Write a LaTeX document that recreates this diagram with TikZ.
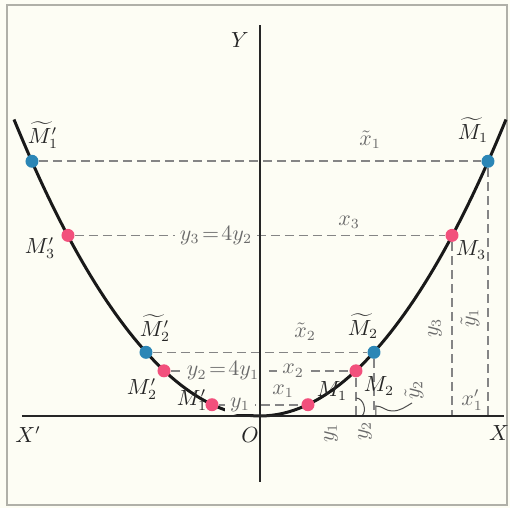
\documentclass[tikz,border=0pt]{standalone}
\usepackage{amsmath,amssymb}
\usepackage{xcolor}
\usepackage{tikz}
\usetikzlibrary{backgrounds}
\definecolor{paper}{HTML}{FDFDF4}
\definecolor{framec}{HTML}{B0B0A8}
\definecolor{guidec}{HTML}{858585}
\definecolor{labc}{HTML}{6A6A6A}
\definecolor{ptpink}{HTML}{F2507C}
\definecolor{ptblue}{HTML}{2B86B6}
\tikzset{
  axisline/.style={line width=1.3pt, draw=black!85},
  parab/.style={line width=1.5pt, draw=black!90},
  guide/.style={draw=guidec, line width=0.8pt, dash pattern=on 4.5pt off 2.5pt},
  framebox/.style={draw=framec, line width=1pt},
  ptdot/.style={circle, fill=#1, inner sep=0pt, minimum size=6.5pt},
  axl/.style={font=\fontsize{10.5}{12}\selectfont, text=black!85, inner sep=1pt},
  mlab/.style={font=\fontsize{10.5}{12}\selectfont, text=black!85, inner sep=1pt},
  glab/.style={font=\fontsize{10.5}{12}\selectfont, text=labc, inner sep=1pt},
  cut/.style={glab, fill=paper, inner ysep=1pt, inner xsep=2.5pt},
  brc/.style={draw=black!70, line width=0.5pt},
}
\newcommand{\eqs}{\mkern2mu{=}\mkern2mu}
\def\xA{48}   \def\yA{11.29}
\def\xB{96}   \def\yB{45.16}
\def\xC{192}  \def\yC{180.63}
\def\xD{114}  \def\yD{63.68}
\def\xE{228}  \def\yE{254.72}

\begin{document}
\begin{tikzpicture}[x=0.5pt, y=0.5pt]
  \useasboundingbox (-260,-92) rectangle (250,416);
  \coordinate (O) at (0,0);
  \coordinate (xl) at (-238,0); \coordinate (xr) at (244,0);
  \coordinate (yb) at (0,-66);  \coordinate (yt) at (0,391);
  \coordinate (cl) at (-246,296.5); \coordinate (cr) at (246,296.5);
  \coordinate (fB) at (\xB,0); \coordinate (fC) at (\xC,0);
  \coordinate (fD) at (\xD,0); \coordinate (fE) at (\xE,0);
  % points on the parabola
  \node[ptdot=ptblue] (Mt1)  at (\xE,\yE) {};
  \node[ptdot=ptblue] (Mt1p) at (-\xE,\yE) {};
  \node[ptdot=ptpink] (M3)   at (\xC,\yC) {};
  \node[ptdot=ptpink] (M3p)  at (-\xC,\yC) {};
  \node[ptdot=ptblue] (Mt2)  at (\xD,\yD) {};
  \node[ptdot=ptblue] (Mt2p) at (-\xD,\yD) {};
  \node[ptdot=ptpink] (M2)   at (\xB,\yB) {};
  \node[ptdot=ptpink] (M2p)  at (-\xB,\yB) {};
  \node[ptdot=ptpink] (M1)   at (\xA,\yA) {};
  \node[ptdot=ptpink] (M1p)  at (-\xA,\yA) {};
  % axis labels
  \node[axl] (lY)  at (-20,376) {$Y$};
  \node[axl] (lXp) at (-232,-19) {$X'$};
  \node[axl] (lO)  at (-10,-19) {$O$};
  \node[axl] (lX)  at (239,-17) {$X$};
  % point labels
  \node[mlab] (lMt1p) at (-217,281) {$\widetilde{M}'_1$};
  \node[mlab] (lMt1)  at (213,286) {$\widetilde{M}_1$};
  \node[mlab] (lM3p)  at (-220,168) {$M'_3$};
  \node[mlab] (lM3)   at (211,166) {$M_3$};
  \node[mlab] (lMt2p) at (-105,88) {$\widetilde{M}'_2$};
  \node[mlab] (lMt2)  at (103,90) {$\widetilde{M}_2$};
  \node[mlab] (lM2p)  at (-118,27) {$M'_2$};
  \node[mlab] (lM2)   at (119,30) {$M_2$};
  \node[mlab] (lM1p)  at (-68,16) {$M'_1$};
  \node[mlab] (lM1)   at (72,25) {$M_1$};
  % lengths
  \node[glab] (lxt1) at (110,276) {$\tilde x_1$};
  \node[glab] (lx3)  at (89,194) {$x_3$};
  \node[cut]  (ly3)  at (-44,\yC) {$y_3\eqs4y_2$};
  \node[glab] (lxt2) at (45,84) {$\tilde x_2$};
  \node[cut]  (ly2)  at (-37,\yB) {$y_2\eqs4y_1$};
  \node[cut]  (lx2)  at (33,\yB) {$x_2$};
  \node[cut]  (ly1)  at (-20,\yA) {$y_1$};
  \node[glab] (lx1)  at (23,25) {$x_1$};
  \node[glab, rotate=90] (ly1b) at (71,-17) {$y_1$};
  \node[glab, rotate=90] (ly2b) at (105,-15) {$y_2$};
  \node[glab, rotate=90] (lyt2) at (154,26) {$\tilde y_2$};
  \node[glab, rotate=90] (ly3r) at (175,88) {$y_3$};
  \node[glab, rotate=90] (lyt1) at (210,98) {$\tilde y_1$};
  \node[glab] (lx1p) at (212,16) {$x'_1$};
  \draw[axisline] (xl) -- (xr);
  \draw[axisline] (yb) -- (yt);
  \begin{scope}[on background layer]
    \fill[paper] (-260,-92) rectangle (250,416);
    \draw[framebox] (-253,-89) rectangle (247,411);
    \draw[guide] (Mt1p) -- (Mt1);
    \draw[guide] (M3p) -- (M3);
    \draw[guide] (Mt2p) -- (Mt2);
    \draw[guide] (M2p) -- (M2);
    \draw[guide] (M1p) -- (M1);
    \draw[guide] (Mt1) -- (fE); \draw[guide] (M3) -- (fC);
    \draw[guide] (Mt2) -- (fD); \draw[guide] (M2) -- (fB);
    \draw[parab] (cl) parabola bend (O) (cr);
    \draw[brc] ([yshift=9]fB) to[out=0,in=45] ([xshift=3]fB);
    \draw[brc] ([xshift=1]fD) -- ++(0,10) to[out=0,in=180] ++(16,-5) to[out=0,in=210] ++(20,8);
  \end{scope}
\end{tikzpicture}
\end{document}
